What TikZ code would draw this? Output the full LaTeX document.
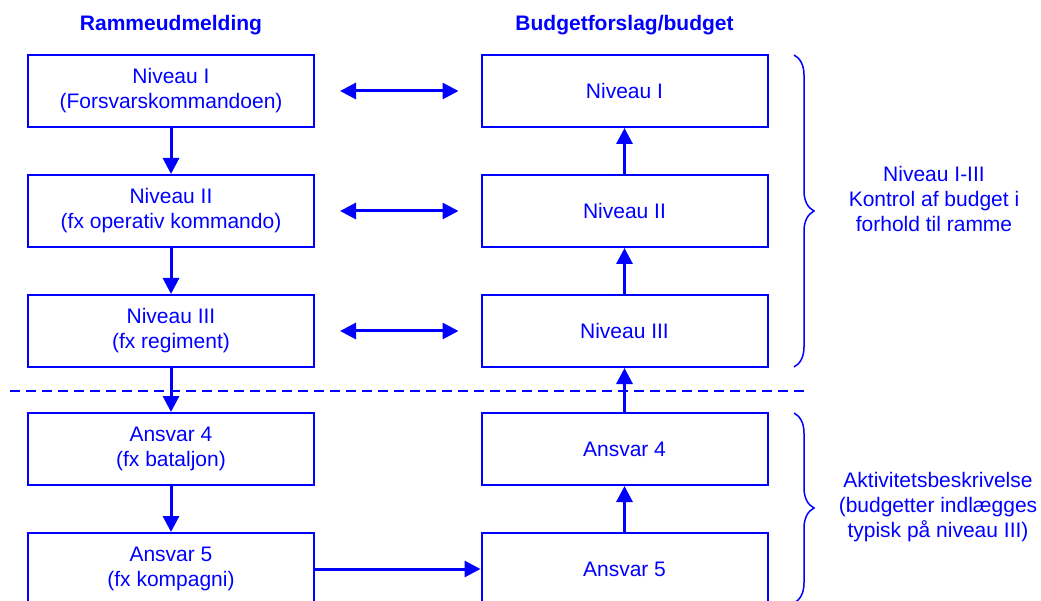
\documentclass[tikz,border=0pt]{standalone}
\usepackage{fontspec}
\setmainfont{Liberation Sans}
\usetikzlibrary{arrows.meta,decorations.pathreplacing}

\begin{document}
\begin{tikzpicture}[x=1pt,y=-1pt,
        every node/.style={text=blue,font=\fontsize{21}{25}\selectfont,align=center},
        unit/.style={draw=blue,line width=2pt,minimum width=286pt,minimum height=72pt},
        flow/.style={draw=blue,line width=3pt,-{Triangle[length=16pt,width=16pt]}},
        swap/.style={draw=blue,line width=3pt,{Triangle[length=16pt,width=16pt]}-{Triangle[length=16pt,width=16pt]}},
        curly/.style={draw=blue,line width=1.5pt,decorate,decoration={brace,amplitude=20pt}}]
        \useasboundingbox (0,0) rectangle (1041,601);
        \clip (0,0) rectangle (1041,601);
        % column headings
        \node[font=\fontsize{21}{25}\selectfont\bfseries] (headL) at (171,25) {Rammeudmelding};
        \node[font=\fontsize{21}{25}\selectfont\bfseries] (headR) at (624.5,25) {Budgetforslag/budget};
        % frame side
        \node[unit] (l1) at (171,91) {Niveau I\\(Forsvarskommandoen)};
        \node[unit] (l2) at (171,211) {Niveau II\\(fx operativ kommando)};
        \node[unit] (l3) at (171,331) {Niveau III\\(fx regiment)};
        \node[unit] (l4) at (171,449) {Ansvar 4\\(fx bataljon)};
        \node[unit] (l5) at (171,569) {Ansvar 5\\(fx kompagni)};
        % budget side
        \node[unit] (r1) at (624.5,91) {Niveau I};
        \node[unit] (r2) at (624.5,211) {Niveau II};
        \node[unit] (r3) at (624.5,331) {Niveau III};
        \node[unit] (r4) at (624.5,449) {Ansvar 4};
        \node[unit] (r5) at (624.5,569) {Ansvar 5};
        % dividing line
        \coordinate (cutL) at (10,391);
        \coordinate (cutR) at (808,391);
        \draw[blue,line width=2pt,dash pattern=on 10pt off 6pt] (cutL) -- (cutR);
        % downward flow
        \draw[flow] (l1) -- (l2);
        \draw[flow] (l2) -- (l3);
        \draw[flow] (l3) -- (l4);
        \draw[flow] (l4) -- (l5);
        \draw[flow] (l5) -- (r5);
        % upward flow
        \draw[flow] (r5) -- (r4);
        \draw[flow] (r4) -- (r3);
        \draw[flow] (r3) -- (r2);
        \draw[flow] (r2) -- (r1);
        % two-way links
        \draw[swap,shorten <=25pt,shorten >=22pt] (l1) -- (r1);
        \draw[swap,shorten <=25pt,shorten >=22pt] (l2) -- (r2);
        \draw[swap,shorten <=25pt,shorten >=22pt] (l3) -- (r3);
        % braces
        \coordinate (b1top) at (794,55);
        \coordinate (b1bot) at (794,367);
        \coordinate (b2top) at (794,413);
        \coordinate (b2bot) at (794,603);
        \draw[curly] (b1top) -- (b1bot);
        \draw[curly] (b2top) -- (b2bot);
        % brace labels
        \node (ctrl) at (934,199) {Niveau I-III\\Kontrol af budget i\\forhold til ramme};
        \node (activ) at (938,507) {Aktivitetsbeskrivelse\\(budgetter indlægges\\typisk på niveau III)};
\end{tikzpicture}
\end{document}
